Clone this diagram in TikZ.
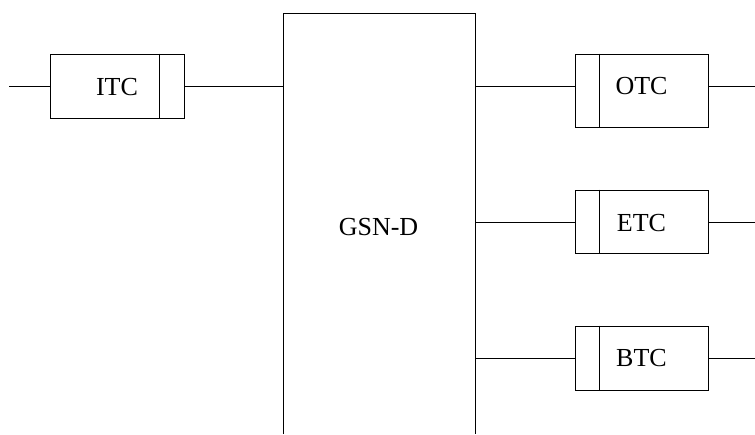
\documentclass[tikz,border=0pt]{standalone}
\usepackage{fontspec}
\setmainfont{Liberation Serif}
\begin{document}
\begin{tikzpicture}[x=1pt,y=-1pt,
  wire/.style={line width=1pt},
  tbox/.style={draw,line width=1pt,rectangle,inner sep=0pt,minimum width=133pt},
  lbl/.style={inner sep=0pt,font=\fontsize{26}{26}\selectfont}]
\useasboundingbox (0,0) rectangle (755,434);
% main block
\node[inner sep=0pt,minimum width=192.2pt,minimum height=420pt] (gsn) at (379.6,224) {};
\draw[wire] (gsn.south west) -- (gsn.north west) -- (gsn.north east) -- (gsn.south east);
\node[lbl] (gsnt) at (378.5,226.7) {GSN-D};
% ITC
\node[tbox,minimum width=134pt,minimum height=64pt] (itc) at (117,86) {};
\draw[wire] ([xshift=-25pt]itc.north east) -- ([xshift=-25pt]itc.south east);
\node[lbl] (itct) at (117,86.7) {ITC};
\coordinate (inL) at (9,86);
\draw[wire] (inL) -- (itc.west);
\draw[wire] (itc.east) -- (itc.east -| gsn.west);
% OTC
\node[tbox,minimum height=73.7pt] (otc) at (641.5,90.85) {};
\draw[wire] ([xshift=25pt]otc.north west) -- ([xshift=25pt]otc.south west);
\node[lbl] (otct) at (641.5,86.5) {OTC};
\coordinate (outO) at (755,86);
\draw[wire] (gsn.east |- 0,86) -- (otc.west |- 0,86);
\draw[wire] (otc.east |- outO) -- (outO);
% ETC
\node[tbox,minimum height=63.3pt] (etc) at (641.5,221.7) {};
\draw[wire] ([xshift=25pt]etc.north west) -- ([xshift=25pt]etc.south west);
\node[lbl] (etct) at (641.5,223) {ETC};
\coordinate (outE) at (755,222);
\draw[wire] (gsn.east |- outE) -- (etc.west |- outE);
\draw[wire] (etc.east |- outE) -- (outE);
% BTC
\node[tbox,minimum height=64pt] (btc) at (641.5,358) {};
\draw[wire] ([xshift=25pt]btc.north west) -- ([xshift=25pt]btc.south west);
\node[lbl] (btct) at (641.5,358.5) {BTC};
\coordinate (outB) at (755,358);
\draw[wire] (gsn.east |- outB) -- (btc.west);
\draw[wire] (btc.east) -- (outB);
\end{tikzpicture}
\end{document}
